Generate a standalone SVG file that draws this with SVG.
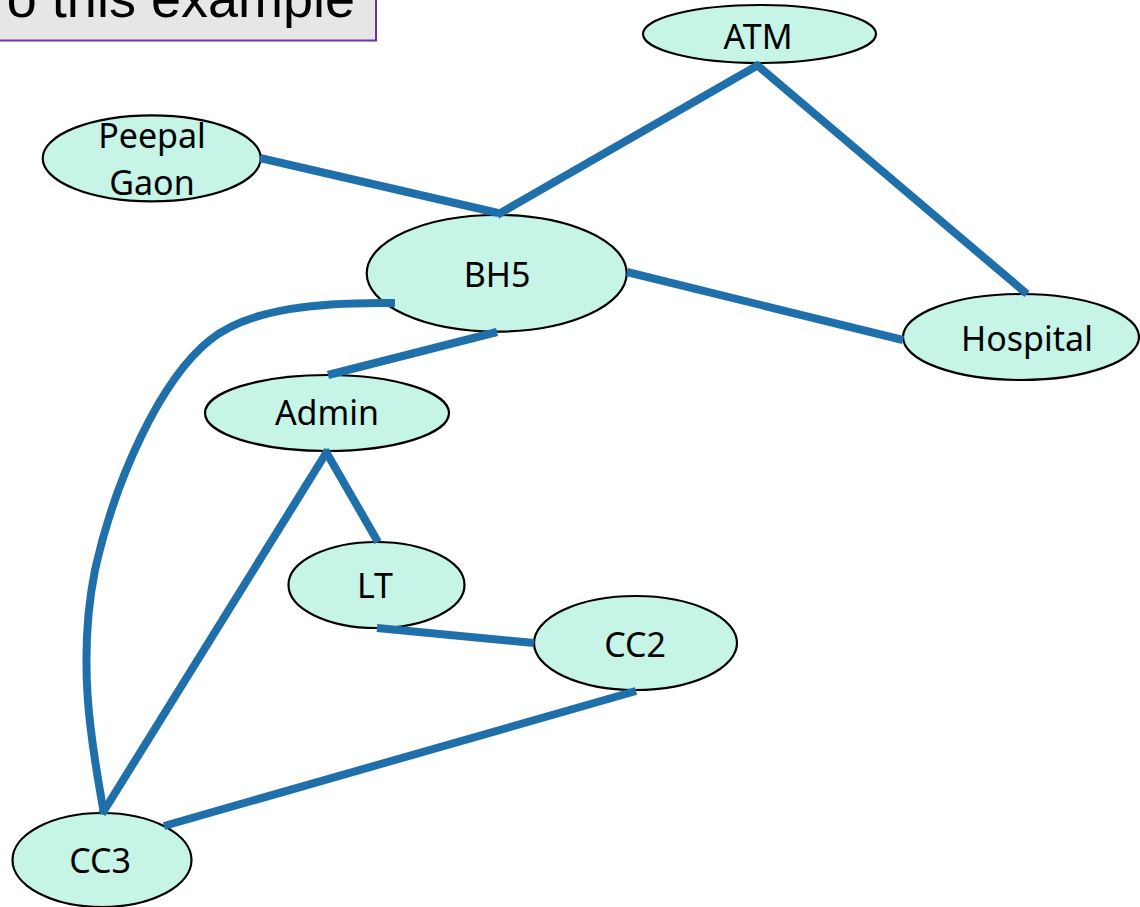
<svg xmlns="http://www.w3.org/2000/svg" width="1140" height="907" viewBox="0 0 1140 907">
<style>
.node ellipse{fill:#c6f4e6;stroke:#000;stroke-width:2.2}
.node text{font-family:"Noto Sans","Open Sans",sans-serif;font-size:34px;fill:#000;text-anchor:middle}
#edges path,#edges line{stroke:#1f6faa;stroke-width:8;fill:none;stroke-linecap:butt}
.title{font-family:"Liberation Sans",Arial,sans-serif;font-size:54px;fill:#000}
</style>
<rect width="1140" height="907" fill="#fff"/>
<g id="title-box">
<rect x="-5" y="-10" width="381" height="50.5" fill="#e6e6e6" stroke="#7030a0" stroke-width="2"/>
<text class="title" x="355" y="17" text-anchor="end">o this example</text>
</g>
<g id="n-atm" class="node"><ellipse cx="759.5" cy="34" rx="116.5" ry="29"/><text x="758" y="49">ATM</text></g>
<g id="n-peepal" class="node"><ellipse cx="151.7" cy="158.3" rx="109" ry="43"/><text x="152" y="148">Peepal</text><text x="152" y="195">Gaon</text></g>
<g id="n-bh5" class="node"><ellipse cx="496.7" cy="273.3" rx="130" ry="58.3"/><text x="497" y="287">BH5</text></g>
<g id="n-hospital" class="node"><ellipse cx="1021" cy="337" rx="118" ry="43"/><text x="1027" y="351">Hospital</text></g>
<g id="n-admin" class="node"><ellipse cx="327" cy="413" rx="122" ry="38"/><text x="327" y="425">Admin</text></g>
<g id="n-lt" class="node"><ellipse cx="376.5" cy="585" rx="88" ry="43"/><text x="375" y="598">LT</text></g>
<g id="n-cc2" class="node"><ellipse cx="635.5" cy="643" rx="101.5" ry="47"/><text x="635" y="657">CC2</text></g>
<g id="n-cc3" class="node"><ellipse cx="102" cy="860" rx="89.5" ry="47"/><text x="100" y="873">CC3</text></g>
<g id="edges">
<line x1="260" y1="158" x2="498" y2="213"/>
<line x1="760" y1="64" x2="497" y2="215"/>
<line x1="757" y1="65" x2="1027" y2="294"/>
<line x1="627" y1="272" x2="903" y2="340"/>
<line x1="497" y1="332" x2="328" y2="375"/>
<line x1="325" y1="450" x2="378" y2="542"/>
<line x1="328" y1="450" x2="102" y2="814"/>
<line x1="377" y1="628" x2="534" y2="643"/>
<line x1="636" y1="691" x2="164" y2="826"/>
<path d="M395,303 C320,302 250,308 210,340 C160,380 115,480 95,570 C75,670 95,760 104,814"/>
</g>
</svg>
